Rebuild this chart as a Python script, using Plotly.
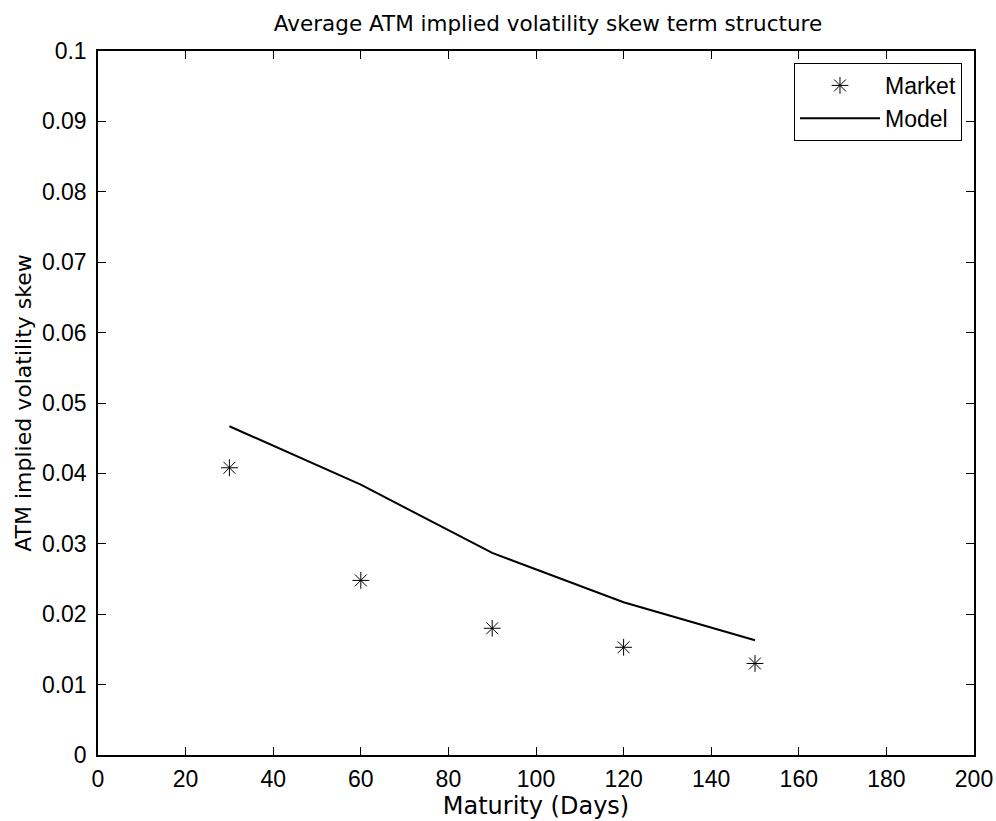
import plotly.graph_objects as go

maturity = [30, 60, 90, 120, 150]
market_skew = [0.0408, 0.0248, 0.0180, 0.0153, 0.0130]
model_skew = [0.0467, 0.0384, 0.0287, 0.0217, 0.0163]

x_ticks = [0, 20, 40, 60, 80, 100, 120, 140, 160, 180, 200]
y_ticks = [0, 0.01, 0.02, 0.03, 0.04, 0.05, 0.06, 0.07, 0.08, 0.09, 0.1]
y_tick_text = ["0", "0.01", "0.02", "0.03", "0.04", "0.05", "0.06", "0.07", "0.08", "0.09", "0.1"]

tick_font = "Liberation Sans, Arial, sans-serif"
label_font = "DejaVu Sans, sans-serif"

fig = go.Figure()
fig.add_trace(go.Scatter(
    x=maturity, y=market_skew, mode="markers", name="Market",
    marker=dict(symbol="asterisk-open", size=14, color="black",
                line=dict(color="black", width=1)),
))
fig.add_trace(go.Scatter(
    x=maturity, y=model_skew, mode="lines", name="Model",
    line=dict(color="black", width=2),
))

axis_common = dict(
    showgrid=False, zeroline=False, showline=True, linecolor="black", linewidth=1.5,
    mirror="ticks", ticks="inside", ticklen=8, tickcolor="black", tickwidth=1,
    automargin=False,
    tickfont=dict(family=tick_font, size=23, color="black"),
)

fig.update_layout(
    width=996, height=821,
    margin=dict(l=98, r=22, t=51, b=66),
    paper_bgcolor="white", plot_bgcolor="white",
    font=dict(family=tick_font, size=23, color="black"),
    title=dict(text="Average ATM implied volatility skew term structure",
               x=(548 - 98) / 876, xref="paper", xanchor="center",
               y=1 - 23/821, yanchor="middle",
               font=dict(family=label_font, size=21.5, color="black")),
    xaxis=dict(range=[0, 200], tickvals=x_ticks, ticklabelstandoff=3,
               title=dict(text="Maturity (Days)", standoff=2,
                          font=dict(family=label_font, size=24, color="black")),
               **axis_common),
    yaxis=dict(range=[0, 0.1], tickvals=y_ticks, ticktext=y_tick_text, ticklabelstandoff=5,
               title=dict(text="ATM implied volatility skew", standoff=4,
                          font=dict(family=label_font, size=22, color="black")),
               **axis_common),
    legend=dict(x=0.9863, y=0.983, xanchor="right", yanchor="top",
                bordercolor="black", borderwidth=1, bgcolor="white",
                font=dict(family=tick_font, size=23, color="black"),
                tracegroupgap=0, itemwidth=80),
    showlegend=True,
)

fig.write_html("out.html", config={"displayModeBar": False},
               post_script="document.body.style.margin='0';")
